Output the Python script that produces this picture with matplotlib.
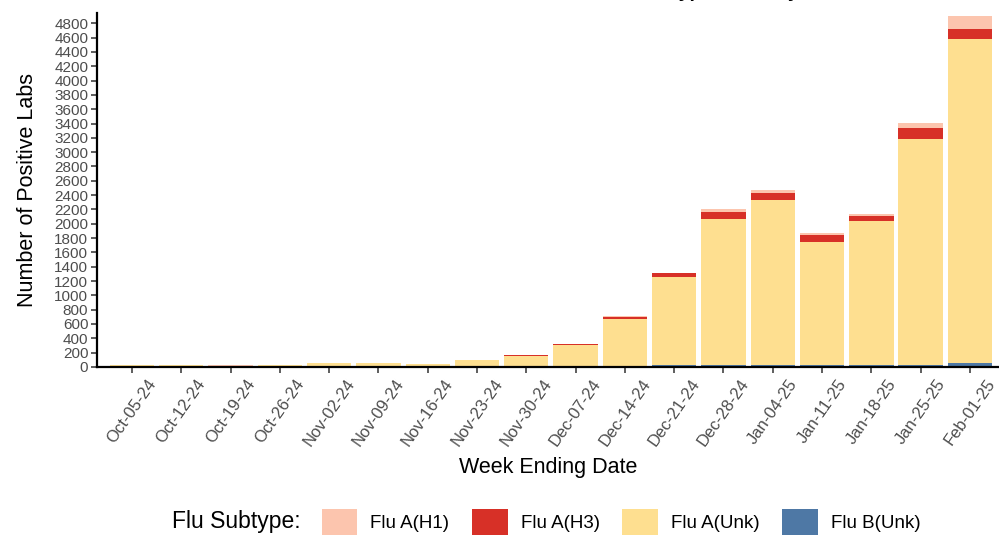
import matplotlib
matplotlib.use("Agg")
import matplotlib.pyplot as plt
import numpy as np

plt.rcParams['font.family'] = ['Liberation Sans', 'DejaVu Sans']

# weekly positive labs by subtype
weeks = ["Oct-05-24", "Oct-12-24", "Oct-19-24", "Oct-26-24", "Nov-02-24", "Nov-09-24",
         "Nov-16-24", "Nov-23-24", "Nov-30-24", "Dec-07-24", "Dec-14-24", "Dec-21-24",
         "Dec-28-24", "Jan-04-25", "Jan-11-25", "Jan-18-25", "Jan-25-25", "Feb-01-25"]
flu_b_unk = [1, 1, 1, 1, 2, 2, 1, 2, 3, 5, 14, 20, 24, 28, 24, 24, 28, 55]
flu_a_unk = [26, 25, 18, 26, 54, 54, 44, 92, 155, 297, 657, 1231, 2041, 2300, 1725, 2013, 3162, 4530]
flu_a_h3 = [1, 1, 0, 1, 1, 2, 1, 2, 2, 15, 28, 56, 98, 105, 88, 70, 153, 140]
flu_a_h1 = [1, 4, 1, 2, 2, 1, 1, 5, 2, 8, 12, 10, 37, 40, 28, 23, 65, 177]

series = [("Flu B(Unk)", flu_b_unk, "#4e78a5"),
          ("Flu A(Unk)", flu_a_unk, "#fedf90"),
          ("Flu A(H3)", flu_a_h3, "#d73027"),
          ("Flu A(H1)", flu_a_h1, "#fcc5ae")]

fig = plt.figure(figsize=(9.99, 5.38), dpi=100)
ax = fig.add_axes([0.0968, 0.318, 0.9032, 0.658])

x = np.arange(len(weeks))
bottom = np.zeros(len(weeks))
handles = {}
for name, vals, col in series:
    vals = np.array(vals, dtype=float)
    b = ax.bar(x, vals, width=0.9, bottom=bottom, color=col, linewidth=0)
    handles[name] = b
    bottom += vals

ax.set_xlim(-0.716, 17.59)
ax.set_ylim(0, 4945)
ax.set_yticks(np.arange(0, 4801, 200))
ax.tick_params(axis='y', labelsize=11, labelcolor='#4d4d4d', color='#333333', length=4, width=1.1, pad=2)
ax.set_xticks(x)
ax.set_xticklabels(weeks, rotation=55, ha='center', va='top')
ax.tick_params(axis='x', labelsize=12, labelcolor='#4d4d4d', color='#333333', length=4, width=1.1, pad=3)

for s in ['top', 'right']:
    ax.spines[s].set_visible(False)
for s in ['left', 'bottom']:
    ax.spines[s].set_linewidth(1.6)
    ax.spines[s].set_color('black')

ax.set_xlabel("Week Ending Date", fontsize=15.5, labelpad=6)
ax.set_ylabel("Number of Positive Labs", fontsize=15.5, labelpad=12)

# title sits mostly above the visible area
fig.text(0.70, 1.006, "Influenza Subtype Trend by Week", fontsize=14, fontweight='bold',
         ha='center', va='baseline')

# legend at the bottom
fig.text(0.172, 0.03, "Flu Subtype:", fontsize=16.5, va='center', ha='left')
order = ["Flu A(H1)", "Flu A(H3)", "Flu A(Unk)", "Flu B(Unk)"]
fig.legend([handles[n] for n in order], order, ncol=4, loc='center left',
           bbox_to_anchor=(0.322, 0.03), frameon=False, fontsize=13.5,
           handlelength=1.9, handleheight=1.7, handletextpad=0.7, columnspacing=1.2,
           borderaxespad=0, borderpad=0)

fig.savefig("out.png", dpi=100)
